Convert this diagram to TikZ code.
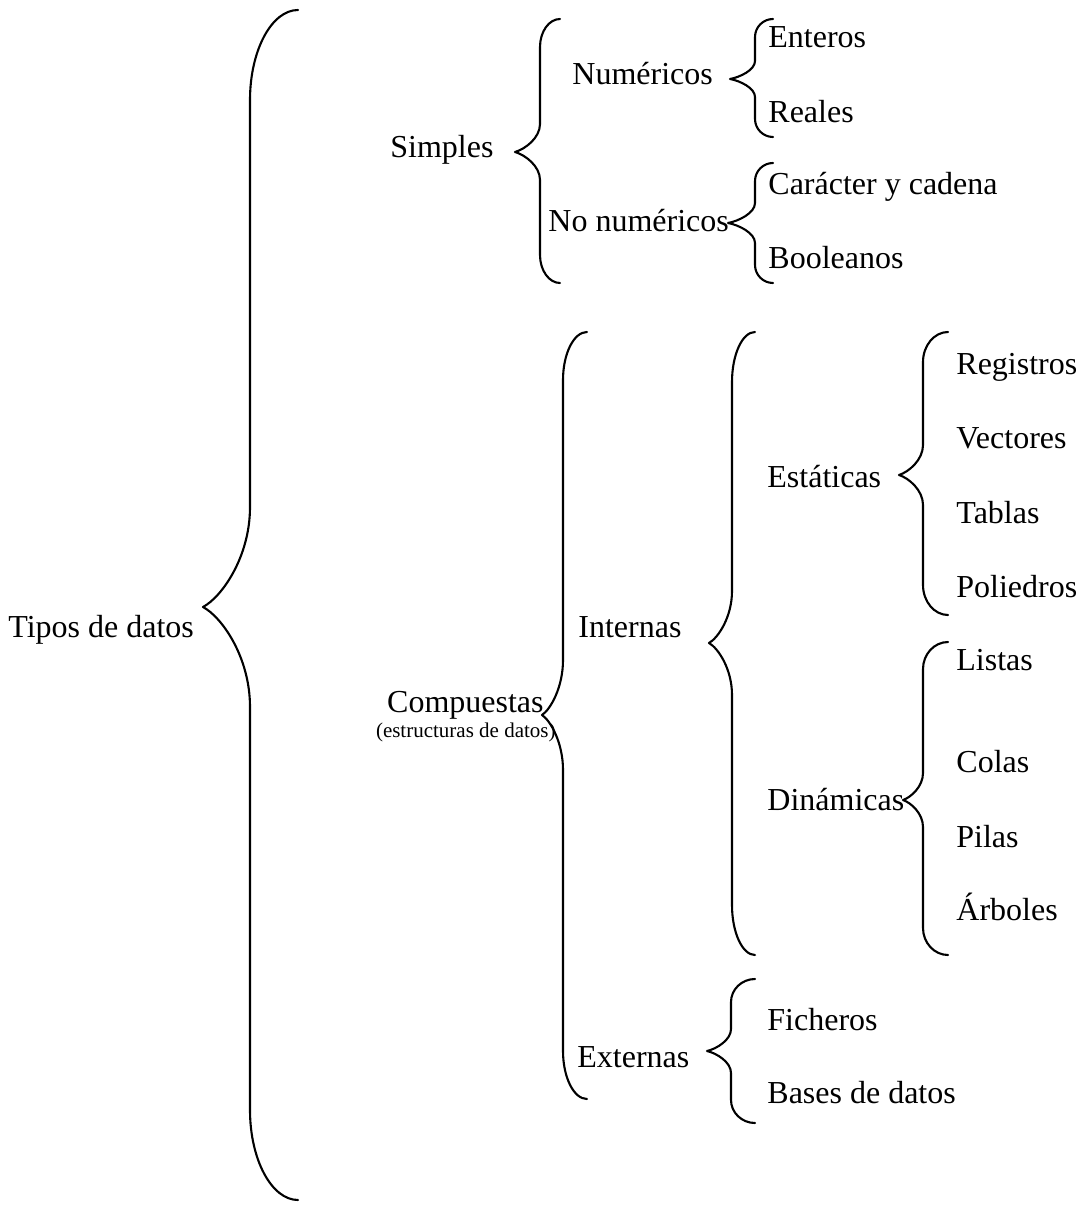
\documentclass[tikz,border=0pt]{standalone}
\usepackage{fontspec}
\setmainfont{Liberation Serif}
\newcommand\DrawBrace[8]{% #1 xend, #2 xspine, #3 xtip, #4 ytop, #5 ytip, #6 ybot, #7 end curve, #8 tip curve
  \draw[bracestyle] (#1,#4) .. controls ({#2+0.45*(#1-#2)},#4) and (#2,{#4+0.45*#7}) .. (#2,{#4+#7})
    -- (#2,{#5-#8}) .. controls (#2,{#5-0.5*#8}) and ({#3+0.4*(#2-#3)},{#5-0.1*#8}) .. (#3,#5)
    .. controls ({#3+0.4*(#2-#3)},{#5+0.1*#8}) and (#2,{#5+0.5*#8}) .. (#2,{#5+#8})
    -- (#2,{#6-#7}) .. controls (#2,{#6-0.45*#7}) and ({#2+0.45*(#1-#2)},#6) .. (#1,#6);}
\begin{document}
\begin{tikzpicture}[x=0.5pt,y=-0.5pt,
  bracestyle/.style={draw=black,line width=1.05pt,line cap=round,line join=round},
  lbl/.style={inner sep=0pt,anchor=base west,font=\fontsize{16pt}{19pt}\selectfont},
  lblr/.style={inner sep=0pt,anchor=base east,font=\fontsize{16pt}{19pt}\selectfont},
  small/.style={inner sep=0pt,anchor=base east,font=\fontsize{10.5pt}{12pt}\selectfont}]
\useasboundingbox[fill=white] (0,0) rectangle (1080,1209);

% labels
\node[lbl] (tipos) at (8,637) {Tipos de datos};
\node[lbl] (simples) at (390,158) {Simples};
\node[lbl] (numericos) at (572,85) {Numéricos};
\node[lbl] (nonumericos) at (548,232) {No numéricos};
\node[lbl] (enteros) at (768,48) {Enteros};
\node[lbl] (reales) at (768,123) {Reales};
\node[lbl] (caracter) at (768,195) {Carácter y cadena};
\node[lbl] (booleanos) at (768,269) {Booleanos};
\node[lblr] (compuestas) at (544,712) {Compuestas};
\node[small] (estructuras) at (556,737) {(estructuras de datos)};
\node[lbl] (internas) at (578,637) {Internas};
\node[lbl] (externas) at (577,1067) {Externas};
\node[lbl] (estaticas) at (767,487) {Estáticas};
\node[lbl] (dinamicas) at (767,810) {Dinámicas};
\node[lbl] (registros) at (956,374) {Registros};
\node[lbl] (vectores) at (956,448) {Vectores};
\node[lbl] (tablas) at (956,523) {Tablas};
\node[lbl] (poliedros) at (956,597) {Poliedros};
\node[lbl] (listas) at (956,670) {Listas};
\node[lbl] (colas) at (956,772) {Colas};
\node[lbl] (pilas) at (956,847) {Pilas};
\node[lbl] (arboles) at (956,920) {Árboles};
\node[lbl] (ficheros) at (767,1030) {Ficheros};
\node[lbl] (bases) at (767,1103) {Bases de datos};

% braces
\DrawBrace{298}{250}{203}{10}{607}{1200}{90}{100}
\DrawBrace{560}{540}{515}{19}{152}{283}{28}{28}
\DrawBrace{773}{755}{730}{19}{79}{137}{18}{18}
\DrawBrace{773}{755}{728}{163}{223}{283}{18}{20}
\DrawBrace{587}{563}{542}{332}{715}{1099}{48}{55}
\DrawBrace{755}{732}{709}{332}{643}{955}{50}{52}
\DrawBrace{948}{923}{899}{332}{475}{615}{30}{30}
\DrawBrace{948}{923}{903}{642}{800}{955}{27}{27}
\DrawBrace{755}{731}{707}{979}{1051}{1123}{23}{22}
\end{tikzpicture}
\end{document}
